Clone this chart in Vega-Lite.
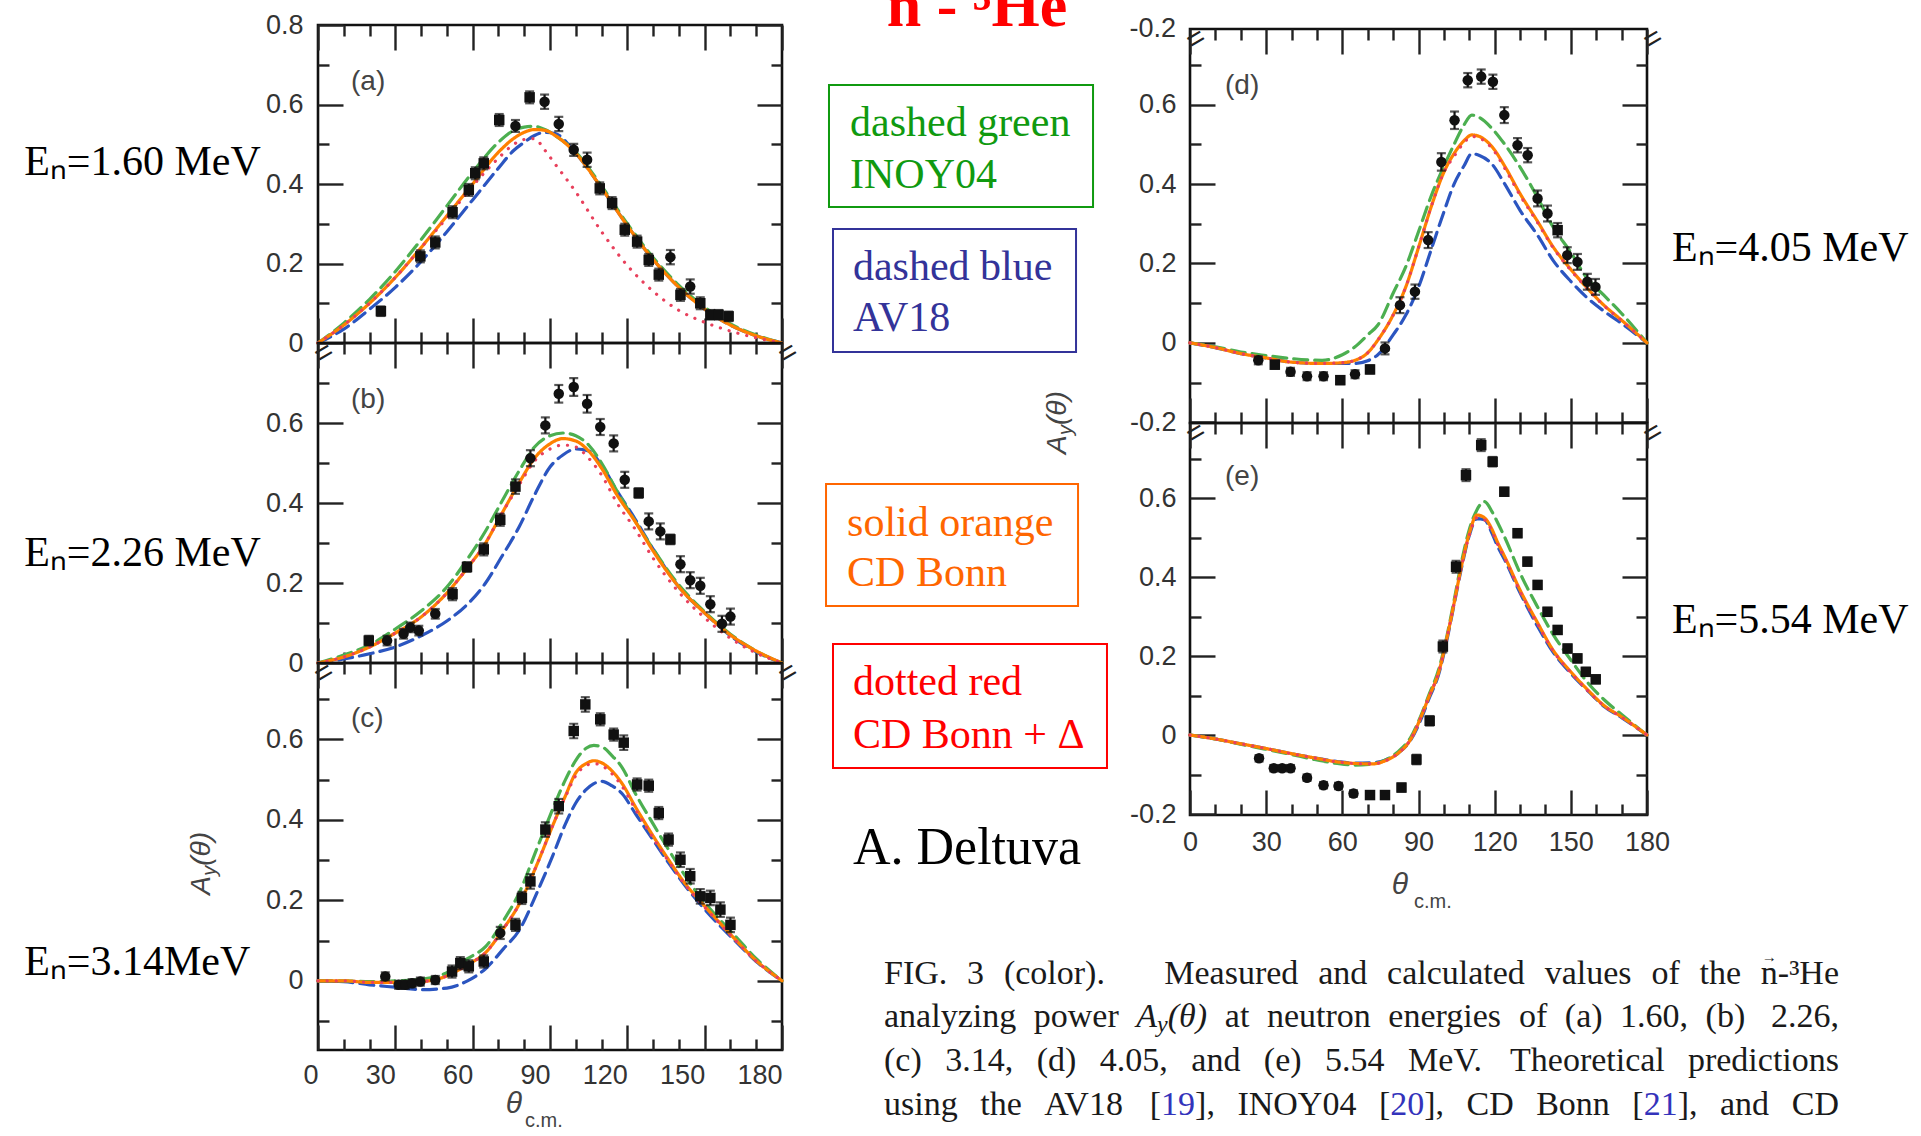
{
"$schema": "https://vega.github.io/schema/vega-lite/v6.json",
"background": "white",
"padding": {"left": 22, "top": 0, "right": 10, "bottom": 0},
"bounds": "flush",
"spacing": 0,
"config": {
 "view": {"stroke": "#111", "strokeWidth": 2.6},
 "axis": {"grid": false, "domain": false, "tickColor": "#222", "tickWidth": 2.4, "labelFont": "Liberation Sans", "labelFontSize": 27, "labelColor": "#333", "labelFlush": false, "labelOverlap": false},
 "text": {"font": "Liberation Serif", "fontSize": 34, "color": "#1a1a1a", "align": "left", "baseline": "middle"}
},
"datasets": {
 "curves": [
  {"p":"a","a":0,"AV18":0,"INOY04":0,"CDB":0,"CDBD":0},
  {"p":"a","a":10,"AV18":0.035,"INOY04":0.05,"CDB":0.045,"CDBD":0.045},
  {"p":"a","a":20,"AV18":0.085,"INOY04":0.11,"CDB":0.1,"CDBD":0.1},
  {"p":"a","a":30,"AV18":0.14,"INOY04":0.18,"CDB":0.165,"CDBD":0.165},
  {"p":"a","a":40,"AV18":0.205,"INOY04":0.26,"CDB":0.24,"CDBD":0.24},
  {"p":"a","a":50,"AV18":0.28,"INOY04":0.345,"CDB":0.32,"CDBD":0.315},
  {"p":"a","a":60,"AV18":0.36,"INOY04":0.43,"CDB":0.4,"CDBD":0.395},
  {"p":"a","a":70,"AV18":0.44,"INOY04":0.505,"CDB":0.48,"CDBD":0.465},
  {"p":"a","a":76,"AV18":0.485,"INOY04":0.535,"CDB":0.515,"CDBD":0.5},
  {"p":"a","a":80,"AV18":0.505,"INOY04":0.543,"CDB":0.53,"CDBD":0.512},
  {"p":"a","a":84,"AV18":0.522,"INOY04":0.545,"CDB":0.537,"CDBD":0.514},
  {"p":"a","a":88,"AV18":0.53,"INOY04":0.537,"CDB":0.535,"CDBD":0.485},
  {"p":"a","a":92,"AV18":0.527,"INOY04":0.522,"CDB":0.522,"CDBD":0.45},
  {"p":"a","a":100,"AV18":0.477,"INOY04":0.48,"CDB":0.477,"CDBD":0.38},
  {"p":"a","a":110,"AV18":0.39,"INOY04":0.395,"CDB":0.39,"CDBD":0.28},
  {"p":"a","a":120,"AV18":0.295,"INOY04":0.3,"CDB":0.295,"CDBD":0.195},
  {"p":"a","a":130,"AV18":0.21,"INOY04":0.215,"CDB":0.21,"CDBD":0.13},
  {"p":"a","a":140,"AV18":0.14,"INOY04":0.145,"CDB":0.14,"CDBD":0.082},
  {"p":"a","a":150,"AV18":0.085,"INOY04":0.09,"CDB":0.085,"CDBD":0.052},
  {"p":"a","a":160,"AV18":0.045,"INOY04":0.048,"CDB":0.045,"CDBD":0.03},
  {"p":"a","a":170,"AV18":0.018,"INOY04":0.02,"CDB":0.018,"CDBD":0.013},
  {"p":"a","a":180,"AV18":0,"INOY04":0,"CDB":0,"CDBD":0},
  {"p":"b","a":0,"AV18":0,"INOY04":0,"CDB":0,"CDBD":0},
  {"p":"b","a":10,"AV18":0.01,"INOY04":0.02,"CDB":0.015,"CDBD":0.015},
  {"p":"b","a":20,"AV18":0.023,"INOY04":0.045,"CDB":0.04,"CDBD":0.04},
  {"p":"b","a":30,"AV18":0.04,"INOY04":0.085,"CDB":0.075,"CDBD":0.075},
  {"p":"b","a":40,"AV18":0.068,"INOY04":0.13,"CDB":0.115,"CDBD":0.115},
  {"p":"b","a":50,"AV18":0.105,"INOY04":0.19,"CDB":0.175,"CDBD":0.175},
  {"p":"b","a":58,"AV18":0.147,"INOY04":0.26,"CDB":0.238,"CDBD":0.238},
  {"p":"b","a":65,"AV18":0.2,"INOY04":0.33,"CDB":0.3,"CDBD":0.3},
  {"p":"b","a":71,"AV18":0.263,"INOY04":0.4,"CDB":0.37,"CDBD":0.37},
  {"p":"b","a":78,"AV18":0.34,"INOY04":0.48,"CDB":0.45,"CDBD":0.445},
  {"p":"b","a":84,"AV18":0.42,"INOY04":0.54,"CDB":0.512,"CDBD":0.505},
  {"p":"b","a":90,"AV18":0.49,"INOY04":0.568,"CDB":0.548,"CDBD":0.535},
  {"p":"b","a":95,"AV18":0.52,"INOY04":0.575,"CDB":0.561,"CDBD":0.545},
  {"p":"b","a":100,"AV18":0.535,"INOY04":0.568,"CDB":0.555,"CDBD":0.54},
  {"p":"b","a":105,"AV18":0.53,"INOY04":0.545,"CDB":0.53,"CDBD":0.512},
  {"p":"b","a":110,"AV18":0.495,"INOY04":0.5,"CDB":0.487,"CDBD":0.47},
  {"p":"b","a":116,"AV18":0.43,"INOY04":0.43,"CDB":0.42,"CDBD":0.4},
  {"p":"b","a":123,"AV18":0.36,"INOY04":0.355,"CDB":0.354,"CDBD":0.335},
  {"p":"b","a":130,"AV18":0.285,"INOY04":0.285,"CDB":0.28,"CDBD":0.262},
  {"p":"b","a":140,"AV18":0.19,"INOY04":0.195,"CDB":0.19,"CDBD":0.177},
  {"p":"b","a":150,"AV18":0.125,"INOY04":0.128,"CDB":0.125,"CDBD":0.113},
  {"p":"b","a":160,"AV18":0.068,"INOY04":0.072,"CDB":0.07,"CDBD":0.062},
  {"p":"b","a":170,"AV18":0.028,"INOY04":0.03,"CDB":0.03,"CDBD":0.025},
  {"p":"b","a":180,"AV18":0,"INOY04":0,"CDB":0,"CDBD":0},
  {"p":"c","a":0,"AV18":0,"INOY04":0,"CDB":0,"CDBD":0},
  {"p":"c","a":10,"AV18":-0.002,"INOY04":0,"CDB":0,"CDBD":0},
  {"p":"c","a":20,"AV18":-0.01,"INOY04":-0.002,"CDB":-0.004,"CDBD":-0.004},
  {"p":"c","a":30,"AV18":-0.016,"INOY04":0,"CDB":-0.004,"CDBD":-0.004},
  {"p":"c","a":40,"AV18":-0.022,"INOY04":0.004,"CDB":-0.002,"CDBD":-0.002},
  {"p":"c","a":50,"AV18":-0.018,"INOY04":0.02,"CDB":0.012,"CDBD":0.012},
  {"p":"c","a":58,"AV18":0,"INOY04":0.055,"CDB":0.04,"CDBD":0.04},
  {"p":"c","a":65,"AV18":0.03,"INOY04":0.085,"CDB":0.07,"CDBD":0.07},
  {"p":"c","a":72,"AV18":0.08,"INOY04":0.15,"CDB":0.13,"CDBD":0.13},
  {"p":"c","a":78,"AV18":0.125,"INOY04":0.218,"CDB":0.19,"CDBD":0.19},
  {"p":"c","a":85,"AV18":0.22,"INOY04":0.33,"CDB":0.29,"CDBD":0.29},
  {"p":"c","a":91,"AV18":0.31,"INOY04":0.426,"CDB":0.385,"CDBD":0.385},
  {"p":"c","a":96,"AV18":0.39,"INOY04":0.5,"CDB":0.46,"CDBD":0.458},
  {"p":"c","a":100,"AV18":0.442,"INOY04":0.548,"CDB":0.517,"CDBD":0.51},
  {"p":"c","a":104,"AV18":0.475,"INOY04":0.578,"CDB":0.54,"CDBD":0.535},
  {"p":"c","a":107,"AV18":0.49,"INOY04":0.585,"CDB":0.547,"CDBD":0.54},
  {"p":"c","a":110,"AV18":0.496,"INOY04":0.582,"CDB":0.542,"CDBD":0.535},
  {"p":"c","a":114,"AV18":0.485,"INOY04":0.56,"CDB":0.522,"CDBD":0.515},
  {"p":"c","a":118,"AV18":0.465,"INOY04":0.53,"CDB":0.49,"CDBD":0.483},
  {"p":"c","a":123,"AV18":0.417,"INOY04":0.467,"CDB":0.434,"CDBD":0.428},
  {"p":"c","a":130,"AV18":0.35,"INOY04":0.39,"CDB":0.36,"CDBD":0.355},
  {"p":"c","a":136,"AV18":0.293,"INOY04":0.326,"CDB":0.301,"CDBD":0.297},
  {"p":"c","a":142,"AV18":0.24,"INOY04":0.265,"CDB":0.245,"CDBD":0.242},
  {"p":"c","a":149,"AV18":0.185,"INOY04":0.202,"CDB":0.193,"CDBD":0.19},
  {"p":"c","a":155,"AV18":0.143,"INOY04":0.158,"CDB":0.15,"CDBD":0.148},
  {"p":"c","a":162,"AV18":0.098,"INOY04":0.11,"CDB":0.102,"CDBD":0.1},
  {"p":"c","a":170,"AV18":0.048,"INOY04":0.055,"CDB":0.05,"CDBD":0.049},
  {"p":"c","a":180,"AV18":0,"INOY04":0,"CDB":0,"CDBD":0},
  {"p":"d","a":0,"AV18":0,"INOY04":0,"CDB":0,"CDBD":0},
  {"p":"d","a":10,"AV18":-0.012,"INOY04":-0.01,"CDB":-0.012,"CDBD":-0.012},
  {"p":"d","a":20,"AV18":-0.027,"INOY04":-0.023,"CDB":-0.027,"CDBD":-0.027},
  {"p":"d","a":30,"AV18":-0.038,"INOY04":-0.032,"CDB":-0.038,"CDBD":-0.038},
  {"p":"d","a":39,"AV18":-0.048,"INOY04":-0.039,"CDB":-0.048,"CDBD":-0.048},
  {"p":"d","a":52,"AV18":-0.052,"INOY04":-0.044,"CDB":-0.052,"CDBD":-0.052},
  {"p":"d","a":60,"AV18":-0.052,"INOY04":-0.03,"CDB":-0.05,"CDBD":-0.05},
  {"p":"d","a":65,"AV18":-0.052,"INOY04":-0.01,"CDB":-0.044,"CDBD":-0.044},
  {"p":"d","a":70,"AV18":-0.045,"INOY04":0.02,"CDB":-0.025,"CDBD":-0.025},
  {"p":"d","a":74,"AV18":-0.03,"INOY04":0.045,"CDB":0.007,"CDBD":0.007},
  {"p":"d","a":80,"AV18":0.02,"INOY04":0.125,"CDB":0.07,"CDBD":0.07},
  {"p":"d","a":85,"AV18":0.07,"INOY04":0.192,"CDB":0.141,"CDBD":0.141},
  {"p":"d","a":90,"AV18":0.14,"INOY04":0.28,"CDB":0.24,"CDBD":0.24},
  {"p":"d","a":95,"AV18":0.235,"INOY04":0.37,"CDB":0.343,"CDBD":0.343},
  {"p":"d","a":100,"AV18":0.33,"INOY04":0.445,"CDB":0.43,"CDBD":0.43},
  {"p":"d","a":104,"AV18":0.4,"INOY04":0.5,"CDB":0.477,"CDBD":0.47},
  {"p":"d","a":108,"AV18":0.447,"INOY04":0.55,"CDB":0.51,"CDBD":0.505},
  {"p":"d","a":111,"AV18":0.477,"INOY04":0.574,"CDB":0.524,"CDBD":0.52},
  {"p":"d","a":114,"AV18":0.472,"INOY04":0.568,"CDB":0.52,"CDBD":0.516},
  {"p":"d","a":119,"AV18":0.45,"INOY04":0.54,"CDB":0.494,"CDBD":0.49},
  {"p":"d","a":124,"AV18":0.4,"INOY04":0.5,"CDB":0.445,"CDBD":0.44},
  {"p":"d","a":130,"AV18":0.334,"INOY04":0.443,"CDB":0.376,"CDBD":0.372},
  {"p":"d","a":137,"AV18":0.27,"INOY04":0.365,"CDB":0.305,"CDBD":0.302},
  {"p":"d","a":143,"AV18":0.208,"INOY04":0.292,"CDB":0.242,"CDBD":0.24},
  {"p":"d","a":150,"AV18":0.155,"INOY04":0.228,"CDB":0.185,"CDBD":0.183},
  {"p":"d","a":156,"AV18":0.116,"INOY04":0.166,"CDB":0.141,"CDBD":0.14},
  {"p":"d","a":163,"AV18":0.08,"INOY04":0.12,"CDB":0.095,"CDBD":0.094},
  {"p":"d","a":170,"AV18":0.049,"INOY04":0.074,"CDB":0.057,"CDBD":0.056},
  {"p":"d","a":180,"AV18":0,"INOY04":0,"CDB":0,"CDBD":0},
  {"p":"e","a":0,"AV18":0,"INOY04":0,"CDB":0,"CDBD":0},
  {"p":"e","a":10,"AV18":-0.01,"INOY04":-0.01,"CDB":-0.01,"CDBD":-0.01},
  {"p":"e","a":19,"AV18":-0.021,"INOY04":-0.022,"CDB":-0.021,"CDBD":-0.021},
  {"p":"e","a":29,"AV18":-0.033,"INOY04":-0.035,"CDB":-0.033,"CDBD":-0.033},
  {"p":"e","a":39,"AV18":-0.046,"INOY04":-0.048,"CDB":-0.046,"CDBD":-0.046},
  {"p":"e","a":49,"AV18":-0.058,"INOY04":-0.062,"CDB":-0.058,"CDBD":-0.058},
  {"p":"e","a":58,"AV18":-0.067,"INOY04":-0.072,"CDB":-0.068,"CDBD":-0.068},
  {"p":"e","a":65,"AV18":-0.071,"INOY04":-0.076,"CDB":-0.072,"CDBD":-0.072},
  {"p":"e","a":72,"AV18":-0.07,"INOY04":-0.073,"CDB":-0.073,"CDBD":-0.073},
  {"p":"e","a":77,"AV18":-0.063,"INOY04":-0.063,"CDB":-0.065,"CDBD":-0.065},
  {"p":"e","a":82,"AV18":-0.046,"INOY04":-0.042,"CDB":-0.046,"CDBD":-0.046},
  {"p":"e","a":87,"AV18":-0.012,"INOY04":-0.005,"CDB":-0.01,"CDBD":-0.01},
  {"p":"e","a":91,"AV18":0.04,"INOY04":0.05,"CDB":0.046,"CDBD":0.046},
  {"p":"e","a":94,"AV18":0.09,"INOY04":0.1,"CDB":0.095,"CDBD":0.095},
  {"p":"e","a":98,"AV18":0.155,"INOY04":0.167,"CDB":0.16,"CDBD":0.16},
  {"p":"e","a":101,"AV18":0.235,"INOY04":0.245,"CDB":0.24,"CDBD":0.24},
  {"p":"e","a":104,"AV18":0.33,"INOY04":0.34,"CDB":0.333,"CDBD":0.333},
  {"p":"e","a":107,"AV18":0.425,"INOY04":0.44,"CDB":0.43,"CDBD":0.428},
  {"p":"e","a":110,"AV18":0.505,"INOY04":0.52,"CDB":0.51,"CDBD":0.505},
  {"p":"e","a":113,"AV18":0.548,"INOY04":0.57,"CDB":0.557,"CDBD":0.55},
  {"p":"e","a":116,"AV18":0.545,"INOY04":0.591,"CDB":0.55,"CDBD":0.545},
  {"p":"e","a":119,"AV18":0.51,"INOY04":0.565,"CDB":0.52,"CDBD":0.515},
  {"p":"e","a":121,"AV18":0.48,"INOY04":0.54,"CDB":0.49,"CDBD":0.485},
  {"p":"e","a":124,"AV18":0.443,"INOY04":0.5,"CDB":0.451,"CDBD":0.447},
  {"p":"e","a":130,"AV18":0.36,"INOY04":0.41,"CDB":0.367,"CDBD":0.363},
  {"p":"e","a":137,"AV18":0.274,"INOY04":0.323,"CDB":0.283,"CDBD":0.28},
  {"p":"e","a":143,"AV18":0.21,"INOY04":0.255,"CDB":0.215,"CDBD":0.213},
  {"p":"e","a":150,"AV18":0.156,"INOY04":0.19,"CDB":0.16,"CDBD":0.158},
  {"p":"e","a":157,"AV18":0.11,"INOY04":0.13,"CDB":0.112,"CDBD":0.11},
  {"p":"e","a":163,"AV18":0.073,"INOY04":0.09,"CDB":0.075,"CDBD":0.074},
  {"p":"e","a":170,"AV18":0.044,"INOY04":0.052,"CDB":0.046,"CDBD":0.045},
  {"p":"e","a":180,"AV18":0,"INOY04":0,"CDB":0,"CDBD":0}
 ],
 "pts": [
  {"p":"a","a":24.4,"v":0.08,"e":0.012,"s":"s"},{"p":"a","a":39.7,"v":0.218,"e":0.015,"s":"s"},{"p":"a","a":45.5,"v":0.253,"e":0.015,"s":"s"},{"p":"a","a":52.2,"v":0.329,"e":0.015,"s":"s"},{"p":"a","a":58.5,"v":0.385,"e":0.015,"s":"s"},{"p":"a","a":61.0,"v":0.427,"e":0.015,"s":"s"},{"p":"a","a":64.3,"v":0.452,"e":0.015,"s":"s"},{"p":"a","a":70.3,"v":0.561,"e":0.015,"s":"s"},{"p":"a","a":76.6,"v":0.546,"e":0.015,"s":"c"},{"p":"a","a":82.1,"v":0.618,"e":0.015,"s":"s"},{"p":"a","a":87.9,"v":0.607,"e":0.018,"s":"c"},{"p":"a","a":93.4,"v":0.551,"e":0.018,"s":"c"},{"p":"a","a":99.2,"v":0.486,"e":0.015,"s":"c"},{"p":"a","a":104.4,"v":0.461,"e":0.018,"s":"c"},{"p":"a","a":109.3,"v":0.389,"e":0.015,"s":"s"},{"p":"a","a":114.1,"v":0.352,"e":0.015,"s":"s"},{"p":"a","a":119.0,"v":0.285,"e":0.015,"s":"s"},{"p":"a","a":123.8,"v":0.255,"e":0.015,"s":"s"},{"p":"a","a":128.3,"v":0.209,"e":0.015,"s":"s"},{"p":"a","a":132.2,"v":0.172,"e":0.015,"s":"s"},{"p":"a","a":136.7,"v":0.216,"e":0.018,"s":"c"},{"p":"a","a":140.6,"v":0.121,"e":0.015,"s":"s"},{"p":"a","a":144.4,"v":0.142,"e":0.018,"s":"c"},{"p":"a","a":148.3,"v":0.1,"e":0.015,"s":"s"},{"p":"a","a":152.2,"v":0.071,"e":0.012,"s":"s"},{"p":"a","a":155.4,"v":0.071,"e":0.012,"s":"s"},{"p":"a","a":159.3,"v":0.067,"e":0.012,"s":"s"},
  {"p":"b","a":19.7,"v":0.056,"e":0.012,"s":"s"},{"p":"b","a":26.8,"v":0.056,"e":0.012,"s":"c"},{"p":"b","a":33.2,"v":0.073,"e":0.012,"s":"c"},{"p":"b","a":35.8,"v":0.089,"e":0.012,"s":"c"},{"p":"b","a":39.1,"v":0.081,"e":0.012,"s":"c"},{"p":"b","a":45.5,"v":0.123,"e":0.012,"s":"c"},{"p":"b","a":52.2,"v":0.172,"e":0.015,"s":"s"},{"p":"b","a":57.8,"v":0.24,"e":0.012,"s":"s"},{"p":"b","a":64.3,"v":0.284,"e":0.015,"s":"s"},{"p":"b","a":70.7,"v":0.358,"e":0.015,"s":"s"},{"p":"b","a":76.6,"v":0.441,"e":0.018,"s":"s"},{"p":"b","a":82.4,"v":0.512,"e":0.02,"s":"c"},{"p":"b","a":88.2,"v":0.594,"e":0.02,"s":"c"},{"p":"b","a":93.4,"v":0.673,"e":0.022,"s":"c"},{"p":"b","a":99.2,"v":0.69,"e":0.022,"s":"c"},{"p":"b","a":104.4,"v":0.648,"e":0.022,"s":"c"},{"p":"b","a":109.5,"v":0.59,"e":0.02,"s":"c"},{"p":"b","a":114.7,"v":0.549,"e":0.02,"s":"c"},{"p":"b","a":119.0,"v":0.458,"e":0.02,"s":"c"},{"p":"b","a":124.4,"v":0.425,"e":0.012,"s":"s"},{"p":"b","a":128.3,"v":0.354,"e":0.02,"s":"c"},{"p":"b","a":132.8,"v":0.329,"e":0.02,"s":"c"},{"p":"b","a":136.7,"v":0.309,"e":0.012,"s":"s"},{"p":"b","a":140.6,"v":0.247,"e":0.02,"s":"c"},{"p":"b","a":144.4,"v":0.207,"e":0.02,"s":"c"},{"p":"b","a":148.3,"v":0.193,"e":0.02,"s":"c"},{"p":"b","a":152.2,"v":0.147,"e":0.02,"s":"c"},{"p":"b","a":156.7,"v":0.098,"e":0.02,"s":"c"},{"p":"b","a":160.0,"v":0.116,"e":0.02,"s":"c"},
  {"p":"c","a":26.1,"v":0.011,"e":0.01,"s":"c"},{"p":"c","a":31.3,"v":-0.01,"e":0.01,"s":"c"},{"p":"c","a":33.9,"v":-0.01,"e":0.01,"s":"c"},{"p":"c","a":36.5,"v":-0.006,"e":0.01,"s":"c"},{"p":"c","a":39.7,"v":-0.002,"e":0.01,"s":"c"},{"p":"c","a":45.5,"v":0.002,"e":0.01,"s":"c"},{"p":"c","a":52.0,"v":0.023,"e":0.015,"s":"s"},{"p":"c","a":55.2,"v":0.044,"e":0.015,"s":"s"},{"p":"c","a":58.5,"v":0.036,"e":0.015,"s":"s"},{"p":"c","a":64.3,"v":0.048,"e":0.015,"s":"s"},{"p":"c","a":70.7,"v":0.119,"e":0.015,"s":"c"},{"p":"c","a":76.6,"v":0.139,"e":0.015,"s":"s"},{"p":"c","a":79.1,"v":0.206,"e":0.015,"s":"s"},{"p":"c","a":82.4,"v":0.247,"e":0.018,"s":"s"},{"p":"c","a":88.2,"v":0.376,"e":0.018,"s":"s"},{"p":"c","a":93.4,"v":0.434,"e":0.018,"s":"s"},{"p":"c","a":99.2,"v":0.621,"e":0.018,"s":"s"},{"p":"c","a":103.7,"v":0.687,"e":0.018,"s":"s"},{"p":"c","a":109.5,"v":0.65,"e":0.015,"s":"s"},{"p":"c","a":114.7,"v":0.612,"e":0.015,"s":"s"},{"p":"c","a":118.6,"v":0.592,"e":0.018,"s":"s"},{"p":"c","a":123.8,"v":0.488,"e":0.015,"s":"s"},{"p":"c","a":128.3,"v":0.485,"e":0.015,"s":"s"},{"p":"c","a":132.2,"v":0.417,"e":0.015,"s":"s"},{"p":"c","a":136.0,"v":0.351,"e":0.015,"s":"s"},{"p":"c","a":140.6,"v":0.301,"e":0.018,"s":"s"},{"p":"c","a":144.4,"v":0.26,"e":0.018,"s":"s"},{"p":"c","a":148.3,"v":0.21,"e":0.018,"s":"s"},{"p":"c","a":152.2,"v":0.206,"e":0.018,"s":"s"},{"p":"c","a":156.1,"v":0.177,"e":0.018,"s":"s"},{"p":"c","a":160.0,"v":0.139,"e":0.018,"s":"s"},
  {"p":"d","a":26.9,"v":-0.044,"e":0.01,"s":"c"},{"p":"d","a":33.4,"v":-0.055,"e":0.01,"s":"s"},{"p":"d","a":39.6,"v":-0.073,"e":0.01,"s":"c"},{"p":"d","a":46.1,"v":-0.084,"e":0.01,"s":"c"},{"p":"d","a":52.6,"v":-0.084,"e":0.01,"s":"c"},{"p":"d","a":59.2,"v":-0.094,"e":0.01,"s":"s"},{"p":"d","a":65.0,"v":-0.079,"e":0.01,"s":"c"},{"p":"d","a":70.9,"v":-0.067,"e":0.01,"s":"s"},{"p":"d","a":76.8,"v":-0.014,"e":0.015,"s":"c"},{"p":"d","a":82.7,"v":0.095,"e":0.02,"s":"c"},{"p":"d","a":88.6,"v":0.129,"e":0.018,"s":"c"},{"p":"d","a":93.8,"v":0.259,"e":0.02,"s":"c"},{"p":"d","a":99.0,"v":0.456,"e":0.022,"s":"c"},{"p":"d","a":104.2,"v":0.561,"e":0.022,"s":"c"},{"p":"d","a":109.4,"v":0.662,"e":0.018,"s":"c"},{"p":"d","a":114.7,"v":0.671,"e":0.018,"s":"c"},{"p":"d","a":119.3,"v":0.658,"e":0.018,"s":"c"},{"p":"d","a":123.8,"v":0.574,"e":0.02,"s":"c"},{"p":"d","a":129.0,"v":0.498,"e":0.018,"s":"c"},{"p":"d","a":133.0,"v":0.473,"e":0.018,"s":"c"},{"p":"d","a":136.9,"v":0.364,"e":0.02,"s":"c"},{"p":"d","a":140.8,"v":0.326,"e":0.02,"s":"c"},{"p":"d","a":144.8,"v":0.284,"e":0.018,"s":"s"},{"p":"d","a":148.6,"v":0.221,"e":0.02,"s":"c"},{"p":"d","a":152.6,"v":0.204,"e":0.02,"s":"c"},{"p":"d","a":156.5,"v":0.154,"e":0.02,"s":"c"},{"p":"d","a":159.7,"v":0.141,"e":0.02,"s":"c"},
  {"p":"e","a":27.2,"v":-0.059,"e":0.008,"s":"c"},{"p":"e","a":33.0,"v":-0.084,"e":0.008,"s":"c"},{"p":"e","a":36.3,"v":-0.084,"e":0.008,"s":"c"},{"p":"e","a":39.6,"v":-0.084,"e":0.008,"s":"c"},{"p":"e","a":46.1,"v":-0.108,"e":0.008,"s":"c"},{"p":"e","a":52.6,"v":-0.127,"e":0.008,"s":"c"},{"p":"e","a":58.5,"v":-0.129,"e":0.008,"s":"c"},{"p":"e","a":64.4,"v":-0.148,"e":0.008,"s":"c"},{"p":"e","a":70.9,"v":-0.152,"e":0.008,"s":"s"},{"p":"e","a":76.8,"v":-0.152,"e":0.008,"s":"s"},{"p":"e","a":83.3,"v":-0.133,"e":0.01,"s":"s"},{"p":"e","a":89.2,"v":-0.062,"e":0.012,"s":"s"},{"p":"e","a":94.4,"v":0.036,"e":0.012,"s":"s"},{"p":"e","a":99.6,"v":0.224,"e":0.015,"s":"s"},{"p":"e","a":104.8,"v":0.426,"e":0.015,"s":"s"},{"p":"e","a":108.7,"v":0.658,"e":0.015,"s":"s"},{"p":"e","a":114.7,"v":0.734,"e":0.015,"s":"s"},{"p":"e","a":119.2,"v":0.692,"e":0.012,"s":"s"},{"p":"e","a":123.8,"v":0.616,"e":0.01,"s":"s"},{"p":"e","a":129.0,"v":0.511,"e":0.01,"s":"s"},{"p":"e","a":132.9,"v":0.439,"e":0.01,"s":"s"},{"p":"e","a":136.9,"v":0.38,"e":0.01,"s":"s"},{"p":"e","a":140.8,"v":0.312,"e":0.01,"s":"s"},{"p":"e","a":144.8,"v":0.266,"e":0.01,"s":"s"},{"p":"e","a":148.7,"v":0.219,"e":0.01,"s":"s"},{"p":"e","a":152.6,"v":0.194,"e":0.01,"s":"s"},{"p":"e","a":155.9,"v":0.16,"e":0.01,"s":"s"},{"p":"e","a":159.8,"v":0.141,"e":0.01,"s":"s"}
 ]
},
"hconcat": [
 {"spacing": 0, "bounds": "flush", "vconcat": [
  {"width": 464, "height": 25, "view": {"stroke": null}, "data": {"values": [{}]}, "mark": {"type": "text", "text": " ", "fontSize": 1, "baseline": "top"}},
  {"width": 464, "height": 318, "resolve": {"axis": {"x": "independent", "y": "independent"}}, "layer": [
   {"data": {"name": "curves"}, "transform": [{"filter": "datum.p == 'a'"}, {"fold": ["AV18","INOY04","CDB","CDBD"], "as": ["m","v"]}],
    "mark": {"type": "line", "interpolate": "monotone", "strokeWidth": 3.2, "strokeCap": "round"},
    "encoding": {
     "x": {"field": "a", "type": "quantitative", "scale": {"domain": [0,180], "nice": false, "zero": false}, "axis": {"orient": "top", "values": [0,30,60,90,120,150,180], "tickSize": -25, "labels": false, "title": null}},
     "y": {"field": "v", "type": "quantitative", "scale": {"domain": [0,0.8], "nice": false, "zero": false}, "axis": {"orient": "right", "values": [0,0.2,0.4,0.6,0.8], "tickSize": -25, "labels": false, "title": null}},
     "color": {"field": "m", "type": "nominal", "scale": {"domain": ["AV18","INOY04","CDB","CDBD"], "range": ["#2b55c0","#4caf50","#ff8000","#e8405c"]}, "legend": null},
     "strokeDash": {"field": "m", "type": "nominal", "scale": {"domain": ["AV18","INOY04","CDB","CDBD"], "range": [[14,7],[14,7],[1,0],[0.1,9]]}, "legend": null}}},
   {"data": {"name": "pts"}, "transform": [{"filter": "datum.p == 'a'"}],
    "mark": {"type": "errorbar", "color": "#111", "thickness": 2.2, "ticks": {"size": 9, "thickness": 2.2}},
    "encoding": {"x": {"field": "a", "type": "quantitative", "axis": null}, "y": {"field": "v", "type": "quantitative", "axis": null}, "yError": {"field": "e"}}},
   {"data": {"name": "pts"}, "transform": [{"filter": "datum.p == 'a'"}],
    "mark": {"type": "point", "filled": true, "opacity": 1, "size": 110, "color": "#111"},
    "encoding": {
     "x": {"field": "a", "type": "quantitative", "axis": {"orient": "bottom", "values": [0,30,60,90,120,150,180], "tickSize": -25, "labels": false, "title": null}},
     "y": {"field": "v", "type": "quantitative", "axis": {"orient": "left", "values": [0,0.2,0.4,0.6,0.8], "tickSize": -25, "labelPadding": 40, "labelExpr": "datum.value == 0 ? '0' : (datum.value < 0 ? '-' : '') + format(abs(datum.value), '.1f')", "title": null}},
     "shape": {"field": "s", "type": "nominal", "scale": {"domain": ["c","s"], "range": ["circle","square"]}, "legend": null}}},
   {"data": {"values": [{}]}, "mark": {"type": "text", "text": "(a)", "font": "Liberation Sans", "fontSize": 28, "color": "#444", "align": "left", "baseline": "middle"},
    "encoding": {
     "x": {"datum": 12.8, "type": "quantitative", "axis": {"orient": "top", "values": [10,20,40,50,70,80,100,110,130,140,160,170], "tickSize": -11, "labels": false, "title": null}},
     "y": {"datum": 0.657, "type": "quantitative", "axis": {"orient": "right", "values": [0.1,0.3,0.5,0.7], "tickSize": -11, "labels": false, "title": null}}}},
   {"data": {"values": [{}]}, "mark": {"type": "text", "text": "Eₙ=1.60 MeV", "font": "Liberation Serif", "fontSize": 42, "color": "#000", "align": "left", "baseline": "middle"},
    "encoding": {
     "x": {"datum": -114, "type": "quantitative", "axis": {"orient": "bottom", "values": [10,20,40,50,70,80,100,110,130,140,160,170], "tickSize": -11, "labels": false, "title": null}},
     "y": {"datum": 0.455, "type": "quantitative", "axis": {"orient": "left", "values": [0.1,0.3,0.5,0.7], "tickSize": -11, "labels": false, "title": null}}}}
  ]},
  {"width": 464, "height": 320, "resolve": {"axis": {"x": "independent", "y": "independent"}}, "layer": [
   {"data": {"name": "curves"}, "transform": [{"filter": "datum.p == 'b'"}, {"fold": ["AV18","INOY04","CDB","CDBD"], "as": ["m","v"]}],
    "mark": {"type": "line", "interpolate": "monotone", "strokeWidth": 3.2, "strokeCap": "round"},
    "encoding": {
     "x": {"field": "a", "type": "quantitative", "scale": {"domain": [0,180], "nice": false, "zero": false}, "axis": {"orient": "top", "values": [0,30,60,90,120,150,180], "tickSize": -25, "labels": false, "title": null}},
     "y": {"field": "v", "type": "quantitative", "scale": {"domain": [0,0.8], "nice": false, "zero": false}, "axis": {"orient": "right", "values": [0,0.2,0.4,0.6], "tickSize": -25, "labels": false, "title": null}},
     "color": {"field": "m", "type": "nominal", "scale": {"domain": ["AV18","INOY04","CDB","CDBD"], "range": ["#2b55c0","#4caf50","#ff8000","#e8405c"]}, "legend": null},
     "strokeDash": {"field": "m", "type": "nominal", "scale": {"domain": ["AV18","INOY04","CDB","CDBD"], "range": [[14,7],[14,7],[1,0],[0.1,9]]}, "legend": null}}},
   {"data": {"name": "pts"}, "transform": [{"filter": "datum.p == 'b'"}],
    "mark": {"type": "errorbar", "color": "#111", "thickness": 2.2, "ticks": {"size": 9, "thickness": 2.2}},
    "encoding": {"x": {"field": "a", "type": "quantitative", "axis": null}, "y": {"field": "v", "type": "quantitative", "axis": null}, "yError": {"field": "e"}}},
   {"data": {"name": "pts"}, "transform": [{"filter": "datum.p == 'b'"}],
    "mark": {"type": "point", "filled": true, "opacity": 1, "size": 110, "color": "#111"},
    "encoding": {
     "x": {"field": "a", "type": "quantitative", "axis": {"orient": "bottom", "values": [0,30,60,90,120,150,180], "tickSize": -25, "labels": false, "title": null}},
     "y": {"field": "v", "type": "quantitative", "axis": {"orient": "left", "values": [0,0.2,0.4,0.6], "tickSize": -25, "labelPadding": 40, "labelExpr": "datum.value == 0 ? '0' : (datum.value < 0 ? '-' : '') + format(abs(datum.value), '.1f')", "title": null}},
     "shape": {"field": "s", "type": "nominal", "scale": {"domain": ["c","s"], "range": ["circle","square"]}, "legend": null}}},
   {"data": {"values": [{}]}, "mark": {"type": "text", "text": "(b)", "font": "Liberation Sans", "fontSize": 28, "color": "#444", "align": "left", "baseline": "middle"},
    "encoding": {
     "x": {"datum": 12.8, "type": "quantitative", "axis": {"orient": "top", "values": [10,20,40,50,70,80,100,110,130,140,160,170], "tickSize": -11, "labels": false, "title": null}},
     "y": {"datum": 0.657, "type": "quantitative", "axis": {"orient": "right", "values": [0.1,0.3,0.5,0.7], "tickSize": -11, "labels": false, "title": null}}}},
   {"data": {"values": [{}]}, "mark": {"type": "text", "text": "Eₙ=2.26 MeV", "font": "Liberation Serif", "fontSize": 42, "color": "#000", "align": "left", "baseline": "middle"},
    "encoding": {
     "x": {"datum": -114, "type": "quantitative", "axis": {"orient": "bottom", "values": [10,20,40,50,70,80,100,110,130,140,160,170], "tickSize": -11, "labels": false, "title": null}},
     "y": {"datum": 0.275, "type": "quantitative", "axis": {"orient": "left", "values": [0.1,0.3,0.5,0.7], "tickSize": -11, "labels": false, "title": null}}}},
   {"data": {"values": [{}]}, "mark": {"type": "text", "text": "=", "font": "Liberation Sans", "fontSize": 30, "color": "#222", "align": "center", "baseline": "middle", "angle": 330, "dy": 12},
    "encoding": {"x": {"datum": 0, "type": "quantitative", "axis": null}, "y": {"datum": 0.8, "type": "quantitative", "axis": null}}},
   {"data": {"values": [{}]}, "mark": {"type": "text", "text": "=", "font": "Liberation Sans", "fontSize": 30, "color": "#222", "align": "center", "baseline": "middle", "angle": 330, "dy": 12},
    "encoding": {"x": {"datum": 180, "type": "quantitative", "axis": null}, "y": {"datum": 0.8, "type": "quantitative", "axis": null}}}
  ]},
  {"width": 464, "height": 387, "resolve": {"axis": {"x": "independent", "y": "independent"}}, "layer": [
   {"data": {"name": "curves"}, "transform": [{"filter": "datum.p == 'c'"}, {"fold": ["AV18","INOY04","CDB","CDBD"], "as": ["m","v"]}],
    "mark": {"type": "line", "interpolate": "monotone", "strokeWidth": 3.2, "strokeCap": "round"},
    "encoding": {
     "x": {"field": "a", "type": "quantitative", "scale": {"domain": [0,180], "nice": false, "zero": false}, "axis": {"orient": "top", "values": [0,30,60,90,120,150,180], "tickSize": -25, "labels": false, "title": null}},
     "y": {"field": "v", "type": "quantitative", "scale": {"domain": [-0.172,0.79], "nice": false, "zero": false}, "axis": {"orient": "right", "values": [0,0.2,0.4,0.6], "tickSize": -25, "labels": false, "title": null}},
     "color": {"field": "m", "type": "nominal", "scale": {"domain": ["AV18","INOY04","CDB","CDBD"], "range": ["#2b55c0","#4caf50","#ff8000","#e8405c"]}, "legend": null},
     "strokeDash": {"field": "m", "type": "nominal", "scale": {"domain": ["AV18","INOY04","CDB","CDBD"], "range": [[14,7],[14,7],[1,0],[0.1,9]]}, "legend": null}}},
   {"data": {"name": "pts"}, "transform": [{"filter": "datum.p == 'c'"}],
    "mark": {"type": "errorbar", "color": "#111", "thickness": 2.2, "ticks": {"size": 9, "thickness": 2.2}},
    "encoding": {"x": {"field": "a", "type": "quantitative", "axis": null}, "y": {"field": "v", "type": "quantitative", "axis": null}, "yError": {"field": "e"}}},
   {"data": {"name": "pts"}, "transform": [{"filter": "datum.p == 'c'"}],
    "mark": {"type": "point", "filled": true, "opacity": 1, "size": 110, "color": "#111"},
    "encoding": {
     "x": {"field": "a", "type": "quantitative", "axis": {"orient": "bottom", "values": [0,30,60,90,120,150,180], "tickSize": -25, "labels": true, "labelAlign": "right", "labelDx": 2, "labelPadding": 37, "format": "d", "title": null}},
     "y": {"field": "v", "type": "quantitative", "axis": {"orient": "left", "values": [0,0.2,0.4,0.6], "tickSize": -25, "labelPadding": 40, "labelExpr": "datum.value == 0 ? '0' : (datum.value < 0 ? '-' : '') + format(abs(datum.value), '.1f')", "title": null}},
     "shape": {"field": "s", "type": "nominal", "scale": {"domain": ["c","s"], "range": ["circle","square"]}, "legend": null}}},
   {"data": {"values": [{}]}, "mark": {"type": "text", "text": "(c)", "font": "Liberation Sans", "fontSize": 28, "color": "#444", "align": "left", "baseline": "middle"},
    "encoding": {
     "x": {"datum": 12.8, "type": "quantitative", "axis": {"orient": "top", "values": [10,20,40,50,70,80,100,110,130,140,160,170], "tickSize": -11, "labels": false, "title": null}},
     "y": {"datum": 0.652, "type": "quantitative", "axis": {"orient": "right", "values": [-0.1,0.1,0.3,0.5,0.7], "tickSize": -11, "labels": false, "title": null}}}},
   {"data": {"values": [{}]}, "mark": {"type": "text", "text": "Eₙ=3.14MeV", "font": "Liberation Serif", "fontSize": 42, "color": "#000", "align": "left", "baseline": "middle"},
    "encoding": {
     "x": {"datum": -114, "type": "quantitative", "axis": {"orient": "bottom", "values": [10,20,40,50,70,80,100,110,130,140,160,170], "tickSize": -11, "labels": false, "title": null}},
     "y": {"datum": 0.047, "type": "quantitative", "axis": {"orient": "left", "values": [-0.1,0.1,0.3,0.5,0.7], "tickSize": -11, "labels": false, "title": null}}}},
   {"data": {"values": [{}]}, "mark": {"type": "text", "text": "=", "font": "Liberation Sans", "fontSize": 30, "color": "#222", "align": "center", "baseline": "middle", "angle": 330, "dy": 12},
    "encoding": {"x": {"datum": 0, "type": "quantitative", "axis": null}, "y": {"datum": 0.79, "type": "quantitative", "axis": null}}},
   {"data": {"values": [{}]}, "mark": {"type": "text", "text": "=", "font": "Liberation Sans", "fontSize": 30, "color": "#222", "align": "center", "baseline": "middle", "angle": 330, "dy": 12},
    "encoding": {"x": {"datum": 180, "type": "quantitative", "axis": null}, "y": {"datum": 0.79, "type": "quantitative", "axis": null}}},
   {"data": {"values": [{}]}, "mark": {"type": "text", "text": "A", "font": "Liberation Sans", "fontStyle": "italic", "fontSize": 28, "color": "#444", "angle": 270, "align": "left", "baseline": "middle", "dx": -31},
    "encoding": {"x": {"datum": -45, "type": "quantitative", "axis": null}, "y": {"datum": 0.291, "type": "quantitative", "axis": null}}},
   {"data": {"values": [{}]}, "mark": {"type": "text", "text": "y", "font": "Liberation Sans", "fontStyle": "italic", "fontSize": 20, "color": "#444", "angle": 270, "align": "left", "baseline": "middle", "dx": -12, "dy": 8},
    "encoding": {"x": {"datum": -45, "type": "quantitative", "axis": null}, "y": {"datum": 0.291, "type": "quantitative", "axis": null}}},
   {"data": {"values": [{}]}, "mark": {"type": "text", "text": "(θ)", "font": "Liberation Sans", "fontStyle": "italic", "fontSize": 28, "color": "#444", "angle": 270, "align": "left", "baseline": "middle", "dx": -2},
    "encoding": {"x": {"datum": -45, "type": "quantitative", "axis": null}, "y": {"datum": 0.291, "type": "quantitative", "axis": null}}},
   {"data": {"values": [{}]}, "mark": {"type": "text", "text": "θ", "font": "Liberation Sans", "fontStyle": "italic", "fontSize": 30, "color": "#444", "align": "center", "baseline": "middle"},
    "encoding": {"x": {"datum": 76, "type": "quantitative", "axis": null}, "y": {"datum": -0.305, "type": "quantitative", "axis": null}}},
   {"data": {"values": [{}]}, "mark": {"type": "text", "text": "c.m.", "font": "Liberation Sans", "fontSize": 20, "color": "#444", "align": "left", "baseline": "middle"},
    "encoding": {"x": {"datum": 80.3, "type": "quantitative", "axis": null}, "y": {"datum": -0.348, "type": "quantitative", "axis": null}}}
  ]}
 ]},
 {"width": 872, "height": 1136, "view": {"stroke": null}, "layer": [
  {"data": {"values": [{}]}, "mark": {"type": "text", "text": "n - ³He", "font": "Liberation Serif", "fontWeight": "bold", "fontSize": 62, "color": "#ff0000", "align": "center", "baseline": "alphabetic", "clip": true},
   "encoding": {"x": {"datum": 0.7557, "type": "quantitative", "scale": {"domain": [0,1], "nice": false, "zero": false}, "axis": null}, "y": {"datum": 0.0229, "type": "quantitative", "scale": {"domain": [0,1], "nice": false, "zero": false, "reverse": true}, "axis": null}}},
  {"data": {"values": [{}]}, "mark": {"type": "rect", "filled": false, "color": "#109a10", "strokeWidth": 2},
   "encoding": {"x": {"datum": 0.586, "type": "quantitative", "axis": null}, "x2": {"datum": 0.8888}, "y": {"datum": 0.0748, "type": "quantitative", "axis": null}, "y2": {"datum": 0.1822}}},
  {"data": {"values": [{}]}, "mark": {"type": "text", "text": "dashed green", "fontSize": 42, "color": "#109a10"},
   "encoding": {"x": {"datum": 0.6101, "type": "quantitative", "axis": null}, "y": {"datum": 0.1085, "type": "quantitative", "axis": null}}},
  {"data": {"values": [{}]}, "mark": {"type": "text", "text": "INOY04", "fontSize": 42, "color": "#109a10"},
   "encoding": {"x": {"datum": 0.6101, "type": "quantitative", "axis": null}, "y": {"datum": 0.1537, "type": "quantitative", "axis": null}}},
  {"data": {"values": [{}]}, "mark": {"type": "rect", "filled": false, "color": "#333399", "strokeWidth": 2},
   "encoding": {"x": {"datum": 0.5906, "type": "quantitative", "axis": null}, "x2": {"datum": 0.8693}, "y": {"datum": 0.2016, "type": "quantitative", "axis": null}, "y2": {"datum": 0.3099}}},
  {"data": {"values": [{}]}, "mark": {"type": "text", "text": "dashed blue", "fontSize": 42, "color": "#333399"},
   "encoding": {"x": {"datum": 0.6135, "type": "quantitative", "axis": null}, "y": {"datum": 0.235, "type": "quantitative", "axis": null}}},
  {"data": {"values": [{}]}, "mark": {"type": "text", "text": "AV18", "fontSize": 42, "color": "#333399"},
   "encoding": {"x": {"datum": 0.6135, "type": "quantitative", "axis": null}, "y": {"datum": 0.28, "type": "quantitative", "axis": null}}},
  {"data": {"values": [{}]}, "mark": {"type": "rect", "filled": false, "color": "#ff6600", "strokeWidth": 2},
   "encoding": {"x": {"datum": 0.5826, "type": "quantitative", "axis": null}, "x2": {"datum": 0.8716}, "y": {"datum": 0.426, "type": "quantitative", "axis": null}, "y2": {"datum": 0.5335}}},
  {"data": {"values": [{}]}, "mark": {"type": "text", "text": "solid orange", "fontSize": 42, "color": "#ff6600"},
   "encoding": {"x": {"datum": 0.6067, "type": "quantitative", "axis": null}, "y": {"datum": 0.4604, "type": "quantitative", "axis": null}}},
  {"data": {"values": [{}]}, "mark": {"type": "text", "text": "CD Bonn", "fontSize": 42, "color": "#ff6600"},
   "encoding": {"x": {"datum": 0.6067, "type": "quantitative", "axis": null}, "y": {"datum": 0.5044, "type": "quantitative", "axis": null}}},
  {"data": {"values": [{}]}, "mark": {"type": "rect", "filled": false, "color": "#ff0000", "strokeWidth": 2},
   "encoding": {"x": {"datum": 0.5906, "type": "quantitative", "axis": null}, "x2": {"datum": 0.9048}, "y": {"datum": 0.567, "type": "quantitative", "axis": null}, "y2": {"datum": 0.676}}},
  {"data": {"values": [{}]}, "mark": {"type": "text", "text": "dotted red", "fontSize": 42, "color": "#ff0000"},
   "encoding": {"x": {"datum": 0.6135, "type": "quantitative", "axis": null}, "y": {"datum": 0.6, "type": "quantitative", "axis": null}}},
  {"data": {"values": [{}]}, "mark": {"type": "text", "text": "CD Bonn + Δ", "fontSize": 42, "color": "#ff0000"},
   "encoding": {"x": {"datum": 0.6135, "type": "quantitative", "axis": null}, "y": {"datum": 0.647, "type": "quantitative", "axis": null}}},
  {"data": {"values": [{}]}, "mark": {"type": "text", "text": "A. Deltuva", "fontSize": 52, "color": "#000"},
   "encoding": {"x": {"datum": 0.6135, "type": "quantitative", "axis": null}, "y": {"datum": 0.7465, "type": "quantitative", "axis": null}}},
  {"data": {"values": [{}]}, "mark": {"type": "text", "text": "A", "font": "Liberation Sans", "fontStyle": "italic", "fontSize": 28, "color": "#444", "angle": 270, "dx": -31},
   "encoding": {"x": {"datum": 0.8486, "type": "quantitative", "axis": null}, "y": {"datum": 0.3724, "type": "quantitative", "axis": null}}},
  {"data": {"values": [{}]}, "mark": {"type": "text", "text": "y", "font": "Liberation Sans", "fontStyle": "italic", "fontSize": 20, "color": "#444", "angle": 270, "dx": -12, "dy": 8},
   "encoding": {"x": {"datum": 0.8486, "type": "quantitative", "axis": null}, "y": {"datum": 0.3724, "type": "quantitative", "axis": null}}},
  {"data": {"values": [{}]}, "mark": {"type": "text", "text": "(θ)", "font": "Liberation Sans", "fontStyle": "italic", "fontSize": 28, "color": "#444", "angle": 270, "dx": -2},
   "encoding": {"x": {"datum": 0.8486, "type": "quantitative", "axis": null}, "y": {"datum": 0.3724, "type": "quantitative", "axis": null}}},
  {"data": {"values": [{}]}, "mark": {"type": "text", "text": "FIG."}, "encoding": {"x": {"datum": 0.6491, "type": "quantitative", "axis": null}, "y": {"datum": 0.8574, "type": "quantitative", "axis": null}}},
  {"data": {"values": [{}]}, "mark": {"type": "text", "text": "3"}, "encoding": {"x": {"datum": 0.7444, "type": "quantitative", "axis": null}, "y": {"datum": 0.8574, "type": "quantitative", "axis": null}}},
  {"data": {"values": [{}]}, "mark": {"type": "text", "text": "(color)."}, "encoding": {"x": {"datum": 0.7866, "type": "quantitative", "axis": null}, "y": {"datum": 0.8574, "type": "quantitative", "axis": null}}},
  {"data": {"values": [{}]}, "mark": {"type": "text", "text": "Measured"}, "encoding": {"x": {"datum": 0.9705, "type": "quantitative", "axis": null}, "y": {"datum": 0.8574, "type": "quantitative", "axis": null}}},
  {"data": {"values": [{}]}, "mark": {"type": "text", "text": "and"}, "encoding": {"x": {"datum": 1.147, "type": "quantitative", "axis": null}, "y": {"datum": 0.8574, "type": "quantitative", "axis": null}}},
  {"data": {"values": [{}]}, "mark": {"type": "text", "text": "calculated"}, "encoding": {"x": {"datum": 1.226, "type": "quantitative", "axis": null}, "y": {"datum": 0.8574, "type": "quantitative", "axis": null}}},
  {"data": {"values": [{}]}, "mark": {"type": "text", "text": "values"}, "encoding": {"x": {"datum": 1.4068, "type": "quantitative", "axis": null}, "y": {"datum": 0.8574, "type": "quantitative", "axis": null}}},
  {"data": {"values": [{}]}, "mark": {"type": "text", "text": "of"}, "encoding": {"x": {"datum": 1.5291, "type": "quantitative", "axis": null}, "y": {"datum": 0.8574, "type": "quantitative", "axis": null}}},
  {"data": {"values": [{}]}, "mark": {"type": "text", "text": "the"}, "encoding": {"x": {"datum": 1.5843, "type": "quantitative", "axis": null}, "y": {"datum": 0.8574, "type": "quantitative", "axis": null}}},
  {"data": {"values": [{}]}, "mark": {"type": "text", "text": "n-³He", "align": "right"}, "encoding": {"x": {"datum": 1.7443, "type": "quantitative", "axis": null}, "y": {"datum": 0.8574, "type": "quantitative", "axis": null}}},
  {"data": {"values": [{}]}, "mark": {"type": "text", "text": "→", "fontSize": 15, "align": "center"}, "encoding": {"x": {"datum": 1.6644, "type": "quantitative", "axis": null}, "y": {"datum": 0.8424, "type": "quantitative", "axis": null}}},
  {"data": {"values": [{}]}, "mark": {"type": "text", "text": "analyzing"}, "encoding": {"x": {"datum": 0.6491, "type": "quantitative", "axis": null}, "y": {"datum": 0.8952, "type": "quantitative", "axis": null}}},
  {"data": {"values": [{}]}, "mark": {"type": "text", "text": "power"}, "encoding": {"x": {"datum": 0.8208, "type": "quantitative", "axis": null}, "y": {"datum": 0.8952, "type": "quantitative", "axis": null}}},
  {"data": {"values": [{}]}, "mark": {"type": "text", "text": "A", "fontStyle": "italic"}, "encoding": {"x": {"datum": 0.9383, "type": "quantitative", "axis": null}, "y": {"datum": 0.8952, "type": "quantitative", "axis": null}}},
  {"data": {"values": [{}]}, "mark": {"type": "text", "text": "y", "fontStyle": "italic", "fontSize": 24, "dy": 8}, "encoding": {"x": {"datum": 0.9622, "type": "quantitative", "axis": null}, "y": {"datum": 0.8952, "type": "quantitative", "axis": null}}},
  {"data": {"values": [{}]}, "mark": {"type": "text", "text": "(θ)", "fontStyle": "italic"}, "encoding": {"x": {"datum": 0.9744, "type": "quantitative", "axis": null}, "y": {"datum": 0.8952, "type": "quantitative", "axis": null}}},
  {"data": {"values": [{}]}, "mark": {"type": "text", "text": "at"}, "encoding": {"x": {"datum": 1.0399, "type": "quantitative", "axis": null}, "y": {"datum": 0.8952, "type": "quantitative", "axis": null}}},
  {"data": {"values": [{}]}, "mark": {"type": "text", "text": "neutron"}, "encoding": {"x": {"datum": 1.0882, "type": "quantitative", "axis": null}, "y": {"datum": 0.8952, "type": "quantitative", "axis": null}}},
  {"data": {"values": [{}]}, "mark": {"type": "text", "text": "energies"}, "encoding": {"x": {"datum": 1.2274, "type": "quantitative", "axis": null}, "y": {"datum": 0.8952, "type": "quantitative", "axis": null}}},
  {"data": {"values": [{}]}, "mark": {"type": "text", "text": "of"}, "encoding": {"x": {"datum": 1.3774, "type": "quantitative", "axis": null}, "y": {"datum": 0.8952, "type": "quantitative", "axis": null}}},
  {"data": {"values": [{}]}, "mark": {"type": "text", "text": "(a)"}, "encoding": {"x": {"datum": 1.4299, "type": "quantitative", "axis": null}, "y": {"datum": 0.8952, "type": "quantitative", "axis": null}}},
  {"data": {"values": [{}]}, "mark": {"type": "text", "text": "1.60,"}, "encoding": {"x": {"datum": 1.4932, "type": "quantitative", "axis": null}, "y": {"datum": 0.8952, "type": "quantitative", "axis": null}}},
  {"data": {"values": [{}]}, "mark": {"type": "text", "text": "(b)"}, "encoding": {"x": {"datum": 1.5913, "type": "quantitative", "axis": null}, "y": {"datum": 0.8952, "type": "quantitative", "axis": null}}},
  {"data": {"values": [{}]}, "mark": {"type": "text", "text": "2.26,", "align": "right"}, "encoding": {"x": {"datum": 1.7443, "type": "quantitative", "axis": null}, "y": {"datum": 0.8952, "type": "quantitative", "axis": null}}},
  {"data": {"values": [{}]}, "mark": {"type": "text", "text": "(c)"}, "encoding": {"x": {"datum": 0.6491, "type": "quantitative", "axis": null}, "y": {"datum": 0.934, "type": "quantitative", "axis": null}}},
  {"data": {"values": [{}]}, "mark": {"type": "text", "text": "3.14,"}, "encoding": {"x": {"datum": 0.7193, "type": "quantitative", "axis": null}, "y": {"datum": 0.934, "type": "quantitative", "axis": null}}},
  {"data": {"values": [{}]}, "mark": {"type": "text", "text": "(d)"}, "encoding": {"x": {"datum": 0.8242, "type": "quantitative", "axis": null}, "y": {"datum": 0.934, "type": "quantitative", "axis": null}}},
  {"data": {"values": [{}]}, "mark": {"type": "text", "text": "4.05,"}, "encoding": {"x": {"datum": 0.8966, "type": "quantitative", "axis": null}, "y": {"datum": 0.934, "type": "quantitative", "axis": null}}},
  {"data": {"values": [{}]}, "mark": {"type": "text", "text": "and"}, "encoding": {"x": {"datum": 1.0015, "type": "quantitative", "axis": null}, "y": {"datum": 0.934, "type": "quantitative", "axis": null}}},
  {"data": {"values": [{}]}, "mark": {"type": "text", "text": "(e)"}, "encoding": {"x": {"datum": 1.0847, "type": "quantitative", "axis": null}, "y": {"datum": 0.934, "type": "quantitative", "axis": null}}},
  {"data": {"values": [{}]}, "mark": {"type": "text", "text": "5.54"}, "encoding": {"x": {"datum": 1.1549, "type": "quantitative", "axis": null}, "y": {"datum": 0.934, "type": "quantitative", "axis": null}}},
  {"data": {"values": [{}]}, "mark": {"type": "text", "text": "MeV."}, "encoding": {"x": {"datum": 1.2501, "type": "quantitative", "axis": null}, "y": {"datum": 0.934, "type": "quantitative", "axis": null}}},
  {"data": {"values": [{}]}, "mark": {"type": "text", "text": "Theoretical"}, "encoding": {"x": {"datum": 1.367, "type": "quantitative", "axis": null}, "y": {"datum": 0.934, "type": "quantitative", "axis": null}}},
  {"data": {"values": [{}]}, "mark": {"type": "text", "text": "predictions", "align": "right"}, "encoding": {"x": {"datum": 1.7443, "type": "quantitative", "axis": null}, "y": {"datum": 0.934, "type": "quantitative", "axis": null}}},
  {"data": {"values": [{}]}, "mark": {"type": "text", "text": "using"}, "encoding": {"x": {"datum": 0.6491, "type": "quantitative", "axis": null}, "y": {"datum": 0.9727, "type": "quantitative", "axis": null}}},
  {"data": {"values": [{}]}, "mark": {"type": "text", "text": "the"}, "encoding": {"x": {"datum": 0.7594, "type": "quantitative", "axis": null}, "y": {"datum": 0.9727, "type": "quantitative", "axis": null}}},
  {"data": {"values": [{}]}, "mark": {"type": "text", "text": "AV18"}, "encoding": {"x": {"datum": 0.8328, "type": "quantitative", "axis": null}, "y": {"datum": 0.9727, "type": "quantitative", "axis": null}}},
  {"data": {"values": [{}]}, "mark": {"type": "text", "text": "["}, "encoding": {"x": {"datum": 0.9539, "type": "quantitative", "axis": null}, "y": {"datum": 0.9727, "type": "quantitative", "axis": null}}},
  {"data": {"values": [{}]}, "mark": {"type": "text", "text": "19", "color": "#3333bb"}, "encoding": {"x": {"datum": 0.9668, "type": "quantitative", "axis": null}, "y": {"datum": 0.9727, "type": "quantitative", "axis": null}}},
  {"data": {"values": [{}]}, "mark": {"type": "text", "text": "],"}, "encoding": {"x": {"datum": 1.0058, "type": "quantitative", "axis": null}, "y": {"datum": 0.9727, "type": "quantitative", "axis": null}}},
  {"data": {"values": [{}]}, "mark": {"type": "text", "text": "INOY04"}, "encoding": {"x": {"datum": 1.0544, "type": "quantitative", "axis": null}, "y": {"datum": 0.9727, "type": "quantitative", "axis": null}}},
  {"data": {"values": [{}]}, "mark": {"type": "text", "text": "["}, "encoding": {"x": {"datum": 1.2166, "type": "quantitative", "axis": null}, "y": {"datum": 0.9727, "type": "quantitative", "axis": null}}},
  {"data": {"values": [{}]}, "mark": {"type": "text", "text": "20", "color": "#3333bb"}, "encoding": {"x": {"datum": 1.2296, "type": "quantitative", "axis": null}, "y": {"datum": 0.9727, "type": "quantitative", "axis": null}}},
  {"data": {"values": [{}]}, "mark": {"type": "text", "text": "],"}, "encoding": {"x": {"datum": 1.2686, "type": "quantitative", "axis": null}, "y": {"datum": 0.9727, "type": "quantitative", "axis": null}}},
  {"data": {"values": [{}]}, "mark": {"type": "text", "text": "CD"}, "encoding": {"x": {"datum": 1.3171, "type": "quantitative", "axis": null}, "y": {"datum": 0.9727, "type": "quantitative", "axis": null}}},
  {"data": {"values": [{}]}, "mark": {"type": "text", "text": "Bonn"}, "encoding": {"x": {"datum": 1.397, "type": "quantitative", "axis": null}, "y": {"datum": 0.9727, "type": "quantitative", "axis": null}}},
  {"data": {"values": [{}]}, "mark": {"type": "text", "text": "["}, "encoding": {"x": {"datum": 1.5073, "type": "quantitative", "axis": null}, "y": {"datum": 0.9727, "type": "quantitative", "axis": null}}},
  {"data": {"values": [{}]}, "mark": {"type": "text", "text": "21", "color": "#3333bb"}, "encoding": {"x": {"datum": 1.5203, "type": "quantitative", "axis": null}, "y": {"datum": 0.9727, "type": "quantitative", "axis": null}}},
  {"data": {"values": [{}]}, "mark": {"type": "text", "text": "],"}, "encoding": {"x": {"datum": 1.5593, "type": "quantitative", "axis": null}, "y": {"datum": 0.9727, "type": "quantitative", "axis": null}}},
  {"data": {"values": [{}]}, "mark": {"type": "text", "text": "and"}, "encoding": {"x": {"datum": 1.6078, "type": "quantitative", "axis": null}, "y": {"datum": 0.9727, "type": "quantitative", "axis": null}}},
  {"data": {"values": [{}]}, "mark": {"type": "text", "text": "CD", "align": "right"}, "encoding": {"x": {"datum": 1.7443, "type": "quantitative", "axis": null}, "y": {"datum": 0.9727, "type": "quantitative", "axis": null}}}
 ]},
 {"spacing": 0, "bounds": "flush", "vconcat": [
  {"width": 457, "height": 29, "view": {"stroke": null}, "data": {"values": [{}]}, "mark": {"type": "text", "text": " ", "fontSize": 1, "baseline": "top"}},
  {"width": 457, "height": 394, "resolve": {"axis": {"x": "independent", "y": "independent"}}, "layer": [
   {"data": {"name": "curves"}, "transform": [{"filter": "datum.p == 'd'"}, {"fold": ["AV18","INOY04","CDB","CDBD"], "as": ["m","v"]}],
    "mark": {"type": "line", "interpolate": "monotone", "strokeWidth": 3.2, "strokeCap": "round"},
    "encoding": {
     "x": {"field": "a", "type": "quantitative", "scale": {"domain": [0,180], "nice": false, "zero": false}, "axis": {"orient": "top", "values": [0,30,60,90,120,150,180], "tickSize": -25, "labels": false, "title": null}},
     "y": {"field": "v", "type": "quantitative", "scale": {"domain": [-0.202,0.791], "nice": false, "zero": false}, "axis": {"orient": "right", "values": [-0.2,0,0.2,0.4,0.6], "tickSize": -25, "labels": false, "title": null}},
     "color": {"field": "m", "type": "nominal", "scale": {"domain": ["AV18","INOY04","CDB","CDBD"], "range": ["#2b55c0","#4caf50","#ff8000","#e8405c"]}, "legend": null},
     "strokeDash": {"field": "m", "type": "nominal", "scale": {"domain": ["AV18","INOY04","CDB","CDBD"], "range": [[14,7],[14,7],[1,0],[0.1,9]]}, "legend": null}}},
   {"data": {"name": "pts"}, "transform": [{"filter": "datum.p == 'd'"}],
    "mark": {"type": "errorbar", "color": "#111", "thickness": 2.2, "ticks": {"size": 9, "thickness": 2.2}},
    "encoding": {"x": {"field": "a", "type": "quantitative", "axis": null}, "y": {"field": "v", "type": "quantitative", "axis": null}, "yError": {"field": "e"}}},
   {"data": {"name": "pts"}, "transform": [{"filter": "datum.p == 'd'"}],
    "mark": {"type": "point", "filled": true, "opacity": 1, "size": 110, "color": "#111"},
    "encoding": {
     "x": {"field": "a", "type": "quantitative", "axis": {"orient": "bottom", "values": [0,30,60,90,120,150,180], "tickSize": -25, "labels": false, "title": null}},
     "y": {"field": "v", "type": "quantitative", "axis": {"orient": "left", "values": [-0.2,0,0.2,0.4,0.6], "tickSize": -25, "labelPadding": 39, "labelExpr": "datum.value == 0 ? '0' : (datum.value < 0 ? '-' : '') + format(abs(datum.value), '.1f')", "title": null}},
     "shape": {"field": "s", "type": "nominal", "scale": {"domain": ["c","s"], "range": ["circle","square"]}, "legend": null}}},
   {"data": {"values": [{}]}, "mark": {"type": "text", "text": "(d)", "font": "Liberation Sans", "fontSize": 28, "color": "#444", "align": "left", "baseline": "middle"},
    "encoding": {
     "x": {"datum": 13.8, "type": "quantitative", "axis": {"orient": "top", "values": [10,20,40,50,70,80,100,110,130,140,160,170], "tickSize": -11, "labels": false, "title": null}},
     "y": {"datum": 0.647, "type": "quantitative", "axis": {"orient": "right", "values": [-0.1,0.1,0.3,0.5,0.7], "tickSize": -11, "labels": false, "title": null}}}},
   {"data": {"values": [{}]}, "mark": {"type": "text", "text": "Eₙ=4.05 MeV", "font": "Liberation Serif", "fontSize": 42, "color": "#000", "align": "left", "baseline": "middle"},
    "encoding": {
     "x": {"datum": 189.8, "type": "quantitative", "axis": {"orient": "bottom", "values": [10,20,40,50,70,80,100,110,130,140,160,170], "tickSize": -11, "labels": false, "title": null}},
     "y": {"datum": 0.239, "type": "quantitative", "axis": {"orient": "left", "values": [-0.1,0.1,0.3,0.5,0.7], "tickSize": -11, "labels": false, "title": null}}}},
   {"data": {"values": [{}]}, "mark": {"type": "text", "text": "-0.2", "font": "Liberation Sans", "fontSize": 27, "color": "#333", "align": "right", "baseline": "middle"},
    "encoding": {"x": {"datum": -5.5, "type": "quantitative", "axis": null}, "y": {"datum": 0.791, "type": "quantitative", "axis": null}}},
   {"data": {"values": [{}]}, "mark": {"type": "text", "text": "=", "font": "Liberation Sans", "fontSize": 30, "color": "#222", "align": "center", "baseline": "middle", "angle": 330, "dy": 12},
    "encoding": {"x": {"datum": 0, "type": "quantitative", "axis": null}, "y": {"datum": 0.791, "type": "quantitative", "axis": null}}},
   {"data": {"values": [{}]}, "mark": {"type": "text", "text": "=", "font": "Liberation Sans", "fontSize": 30, "color": "#222", "align": "center", "baseline": "middle", "angle": 330, "dy": 12},
    "encoding": {"x": {"datum": 180, "type": "quantitative", "axis": null}, "y": {"datum": 0.791, "type": "quantitative", "axis": null}}}
  ]},
  {"width": 457, "height": 392, "resolve": {"axis": {"x": "independent", "y": "independent"}}, "layer": [
   {"data": {"name": "curves"}, "transform": [{"filter": "datum.p == 'e'"}, {"fold": ["AV18","INOY04","CDB","CDBD"], "as": ["m","v"]}],
    "mark": {"type": "line", "interpolate": "monotone", "strokeWidth": 3.2, "strokeCap": "round"},
    "encoding": {
     "x": {"field": "a", "type": "quantitative", "scale": {"domain": [0,180], "nice": false, "zero": false}, "axis": {"orient": "top", "values": [0,30,60,90,120,150,180], "tickSize": -25, "labels": false, "title": null}},
     "y": {"field": "v", "type": "quantitative", "scale": {"domain": [-0.2025,0.79], "nice": false, "zero": false}, "axis": {"orient": "right", "values": [-0.2,0,0.2,0.4,0.6], "tickSize": -25, "labels": false, "title": null}},
     "color": {"field": "m", "type": "nominal", "scale": {"domain": ["AV18","INOY04","CDB","CDBD"], "range": ["#2b55c0","#4caf50","#ff8000","#e8405c"]}, "legend": null},
     "strokeDash": {"field": "m", "type": "nominal", "scale": {"domain": ["AV18","INOY04","CDB","CDBD"], "range": [[14,7],[14,7],[1,0],[0.1,9]]}, "legend": null}}},
   {"data": {"name": "pts"}, "transform": [{"filter": "datum.p == 'e'"}],
    "mark": {"type": "errorbar", "color": "#111", "thickness": 2.2, "ticks": {"size": 9, "thickness": 2.2}},
    "encoding": {"x": {"field": "a", "type": "quantitative", "axis": null}, "y": {"field": "v", "type": "quantitative", "axis": null}, "yError": {"field": "e"}}},
   {"data": {"name": "pts"}, "transform": [{"filter": "datum.p == 'e'"}],
    "mark": {"type": "point", "filled": true, "opacity": 1, "size": 110, "color": "#111"},
    "encoding": {
     "x": {"field": "a", "type": "quantitative", "axis": {"orient": "bottom", "values": [0,30,60,90,120,150,180], "tickSize": -25, "labels": true, "labelPadding": 39, "format": "d", "title": null}},
     "y": {"field": "v", "type": "quantitative", "axis": {"orient": "left", "values": [-0.2,0,0.2,0.4,0.6], "tickSize": -25, "labelPadding": 39, "labelExpr": "datum.value == 0 ? '0' : (datum.value < 0 ? '-' : '') + format(abs(datum.value), '.1f')", "title": null}},
     "shape": {"field": "s", "type": "nominal", "scale": {"domain": ["c","s"], "range": ["circle","square"]}, "legend": null}}},
   {"data": {"values": [{}]}, "mark": {"type": "text", "text": "(e)", "font": "Liberation Sans", "fontSize": 28, "color": "#444", "align": "left", "baseline": "middle"},
    "encoding": {
     "x": {"datum": 13.8, "type": "quantitative", "axis": {"orient": "top", "values": [10,20,40,50,70,80,100,110,130,140,160,170], "tickSize": -11, "labels": false, "title": null}},
     "y": {"datum": 0.654, "type": "quantitative", "axis": {"orient": "right", "values": [-0.1,0.1,0.3,0.5,0.7], "tickSize": -11, "labels": false, "title": null}}}},
   {"data": {"values": [{}]}, "mark": {"type": "text", "text": "Eₙ=5.54 MeV", "font": "Liberation Serif", "fontSize": 42, "color": "#000", "align": "left", "baseline": "middle"},
    "encoding": {
     "x": {"datum": 189.8, "type": "quantitative", "axis": {"orient": "bottom", "values": [10,20,40,50,70,80,100,110,130,140,160,170], "tickSize": -11, "labels": false, "title": null}},
     "y": {"datum": 0.291, "type": "quantitative", "axis": {"orient": "left", "values": [-0.1,0.1,0.3,0.5,0.7], "tickSize": -11, "labels": false, "title": null}}}},
   {"data": {"values": [{}]}, "mark": {"type": "text", "text": "=", "font": "Liberation Sans", "fontSize": 30, "color": "#222", "align": "center", "baseline": "middle", "angle": 330, "dy": 12},
    "encoding": {"x": {"datum": 0, "type": "quantitative", "axis": null}, "y": {"datum": 0.79, "type": "quantitative", "axis": null}}},
   {"data": {"values": [{}]}, "mark": {"type": "text", "text": "=", "font": "Liberation Sans", "fontSize": 30, "color": "#222", "align": "center", "baseline": "middle", "angle": 330, "dy": 12},
    "encoding": {"x": {"datum": 180, "type": "quantitative", "axis": null}, "y": {"datum": 0.79, "type": "quantitative", "axis": null}}},
   {"data": {"values": [{}]}, "mark": {"type": "text", "text": "θ", "font": "Liberation Sans", "fontStyle": "italic", "fontSize": 30, "color": "#444", "align": "center", "baseline": "middle"},
    "encoding": {"x": {"datum": 82.7, "type": "quantitative", "axis": null}, "y": {"datum": -0.38, "type": "quantitative", "axis": null}}},
   {"data": {"values": [{}]}, "mark": {"type": "text", "text": "c.m.", "font": "Liberation Sans", "fontSize": 20, "color": "#444", "align": "left", "baseline": "middle"},
    "encoding": {"x": {"datum": 88.2, "type": "quantitative", "axis": null}, "y": {"datum": -0.423, "type": "quantitative", "axis": null}}}
  ]}
 ]}
]
}
